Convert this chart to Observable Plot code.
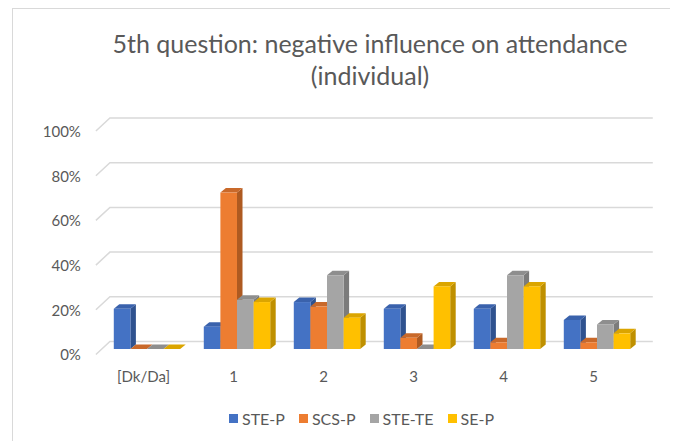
<!DOCTYPE html>
<html>
<head>
<meta charset="utf-8">
<script src="https://cdn.jsdelivr.net/npm/d3@7"></script>
<script src="https://cdn.jsdelivr.net/npm/@observablehq/plot@0.6"></script>
<style>
  html, body { margin: 0; padding: 0; background: #fff; overflow: hidden; }
  #wrap { position: relative; width: 679px; height: 441px; font-family: Lato, "Open Sans", sans-serif; color: #595959; }
  #frame { position: absolute; left: 12px; top: 8px; width: 658px; height: 460px; border-left: 1.5px solid #d9d9d9; border-top: 1.5px solid #d9d9d9; box-sizing: border-box; }
  .title { position: absolute; left: 370px; transform: translateX(-50%); white-space: nowrap; font-size: 25px; color: #595959; }
  #chart { position: absolute; left: 0; top: 95px; }
  #legend { position: absolute; top: 409px; left: 0; width: 679px; display: flex; justify-content: center; padding-left: 44px; box-sizing: border-box; font-size: 16px; }
  .item { display: flex; align-items: center; margin: 0 7px; }
  .sw { width: 9px; height: 9px; margin-right: 4px; }
</style>
</head>
<body>
<div id="wrap">
  <div id="frame"></div>
  <div class="title" style="top:28px">5th question: negative influence on attendance</div>
  <div class="title" style="top:60px">(individual)</div>
  <div id="chart"></div>
  <div id="legend"></div>
</div>
<script>
const categories = ["[Dk/Da]", "1", "2", "3", "4", "5"];
const series = ["STE-P", "SCS-P", "STE-TE", "SE-P"];
const STE_P  = [0.18, 0.10, 0.21, 0.18, 0.18, 0.13];
const SCS_P  = [0.00, 0.70, 0.19, 0.05, 0.03, 0.03];
const STE_TE = [0.00, 0.22, 0.33, 0.00, 0.33, 0.11];
const SE_P   = [0.00, 0.21, 0.14, 0.28, 0.28, 0.07];
const yTicks = [0, 0.2, 0.4, 0.6, 0.8, 1.0];
const colors = ["#4472C4", "#ED7D31", "#A5A5A5", "#FFC000"];
const sideColors = ["#2F528F", "#AE5A21", "#7B7B7B", "#BF9000"];
const topColors = ["#3A62AC", "#C9692A", "#8E8E8E", "#DBA500"];

const values = [STE_P, SCS_P, STE_TE, SE_P];
const data = [];
series.forEach((s, si) => categories.forEach((c, ci) => data.push({cat: c, series: s, si, value: values[si][ci]})));

const DX = 5.5, DY = -4.5; // 3D depth offset
const GRID_DX = 10, GRID_DY = -7.5;

const gridMark = Plot.ruleY(yTicks, {
  y: d => d,
  render: (index, scales, vals, dims) => {
    const g = d3.create("svg:g").attr("stroke", "#d9d9d9").attr("stroke-width", 1.5).attr("fill", "none");
    const x0 = dims.marginLeft - 4.5;
    const xEnd = dims.width - dims.marginRight + GRID_DX;
    for (const i of index) {
      const y = scales.y(yTicks[i]);
      g.append("path").attr("d", `M${x0},${y + 5.5}L${x0 + 14},${y + GRID_DY}L${xEnd},${y + GRID_DY}`);
    }
    return g.node();
  }
});

const barMark = Plot.barY(data, {
  x: "cat", y1: 0, y2: "value",
  render: (index, scales, vals, dims) => {
    const g = d3.create("svg:g");
    const bwProp = scales.x.bandwidth;
    const step = typeof bwProp === "function" ? bwProp() : bwProp;
    const bw = step * 0.1845;
    const pad = (step - 4 * bw) / 2;
    const order = Array.from(index).sort((a, b) => data[a].si - data[b].si);
    for (const i of order) {
      const d = data[i];
      const x0 = scales.x(d.cat) + pad + d.si * bw;
      const yb = scales.y(0), yt = scales.y(d.value);
      g.append("path").attr("fill", sideColors[d.si])
        .attr("d", `M${x0 + bw},${yt}L${x0 + bw + DX},${yt + DY}L${x0 + bw + DX},${yb + DY}L${x0 + bw},${yb}Z`);
      g.append("path").attr("fill", topColors[d.si])
        .attr("d", `M${x0},${yt}L${x0 + DX},${yt + DY}L${x0 + bw + DX},${yt + DY}L${x0 + bw},${yt}Z`);
      if (yb - yt > 0.2) g.append("rect").attr("fill", colors[d.si])
        .attr("x", x0).attr("y", yt).attr("width", bw).attr("height", yb - yt);
    }
    return g.node();
  }
});

const chart = Plot.plot({
  width: 679,
  height: 300,
  marginLeft: 100.4,
  marginRight: 36.2,
  marginTop: 30.5,
  marginBottom: 46,
  style: {fontFamily: "Lato, 'Open Sans', sans-serif", fontSize: "15px", color: "#595959", background: "transparent"},
  x: {domain: categories, padding: 0, label: null},
  y: {domain: [0, 1], label: null},
  marks: [
    gridMark,
    barMark,
    Plot.axisY(yTicks, {tickSize: 0, tickPadding: 20, tickFormat: d => Math.round(d * 100) + "%", label: null, dy: 6, fill: "#595959", fontSize: 15}),
    Plot.axisX(categories, {tickSize: 0, tickPadding: 22, label: null, dx: -4, fill: "#595959", fontSize: 15})
  ]
});
document.getElementById("chart").appendChild(chart);

const legend = document.getElementById("legend");
series.forEach((s, i) => {
  const it = document.createElement("div");
  it.className = "item";
  it.innerHTML = `<span class="sw" style="background:${colors[i]}"></span><span>${s}</span>`;
  legend.appendChild(it);
});
</script>
</body>
</html>
